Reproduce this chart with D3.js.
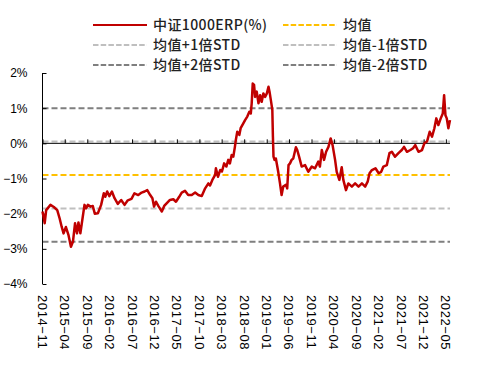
<!DOCTYPE html>
<html>
<head>
<meta charset="utf-8">
<script src="https://cdn.jsdelivr.net/npm/d3@7"></script>
<style>
  html, body { margin: 0; padding: 0; background: #fff; }
  svg { display: block; }
</style>
</head>
<body>
<svg id="chart" width="504" height="387"></svg>
<script>
// values
const dates = [
  "2014-11-01","2014-11-16","2014-11-26","2014-12-25","2015-01-17","2015-02-09","2015-02-25","2015-03-11",
  "2015-03-24","2015-04-09","2015-04-26","2015-05-13","2015-05-27","2015-06-10","2015-06-23","2015-07-03",
  "2015-07-16","2015-07-25","2015-08-13","2015-08-24","2015-09-05","2015-09-23","2015-10-08","2015-10-22",
  "2015-11-12","2015-12-04","2015-12-22","2016-01-01","2016-01-14","2016-01-29","2016-02-15","2016-03-04",
  "2016-03-26","2016-04-18","2016-05-11","2016-06-02","2016-06-27","2016-07-17","2016-08-12","2016-09-04",
  "2016-09-24","2016-10-12","2016-11-01","2016-11-16","2016-11-27","2016-12-10","2016-12-26","2017-01-19",
  "2017-02-04","2017-02-22","2017-03-15","2017-04-07","2017-04-25","2017-05-17","2017-06-03","2017-06-25",
  "2017-07-17","2017-08-10","2017-09-02","2017-09-24","2017-10-17","2017-11-09","2017-12-01","2017-12-12",
  "2017-12-28","2018-01-16","2018-01-21","2018-02-04","2018-02-19","2018-03-03","2018-03-18","2018-04-02",
  "2018-04-15","2018-04-26","2018-05-08","2018-05-19","2018-05-30","2018-06-05","2018-06-15","2018-06-29",
  "2018-07-08","2018-07-26","2018-08-07","2018-08-22","2018-09-05","2018-09-15","2018-09-21","2018-09-28",
  "2018-10-07","2018-10-14","2018-10-25","2018-11-06","2018-11-17","2018-11-28","2018-12-09","2018-12-21",
  "2019-01-02","2019-01-13","2019-01-20","2019-01-29","2019-02-08","2019-02-12","2019-02-16","2019-02-23",
  "2019-03-04","2019-03-20","2019-04-01","2019-04-12","2019-04-23","2019-05-11","2019-05-20","2019-05-29",
  "2019-06-08","2019-06-19","2019-06-30","2019-07-18","2019-07-27","2019-08-10","2019-08-26","2019-09-18",
  "2019-10-10","2019-11-03","2019-11-25","2019-12-17","2019-12-28","2020-01-10","2020-01-25","2020-02-08",
  "2020-02-24","2020-03-10","2020-03-23","2020-04-09","2020-04-20","2020-05-08","2020-05-24","2020-06-04",
  "2020-06-22","2020-07-08","2020-08-01","2020-08-23","2020-09-15","2020-10-08","2020-10-30","2020-11-16",
  "2020-11-29","2020-12-15","2021-01-08","2021-01-30","2021-02-16","2021-03-03","2021-03-26","2021-04-13",
  "2021-04-29","2021-05-21","2021-06-13","2021-07-06","2021-07-21","2021-08-10","2021-09-02","2021-09-20",
  "2021-10-05","2021-10-27","2021-11-20","2021-12-06","2021-12-24","2022-01-11","2022-01-27","2022-02-12",
  "2022-02-25","2022-03-11","2022-03-27","2022-04-10","2022-04-19","2022-04-28","2022-05-07","2022-05-18",
  "2022-05-29"
];
const erp = [
  -1.94,-2.27,-1.90,-1.75,-1.81,-1.90,-2.13,-2.37,
  -2.56,-2.38,-2.60,-2.94,-2.79,-2.27,-2.56,-2.25,
  -2.56,-2.30,-1.75,-1.85,-1.75,-1.80,-1.78,-2.00,
  -1.99,-1.75,-1.42,-1.52,-1.37,-1.50,-1.37,-1.56,
  -1.72,-1.61,-1.75,-1.62,-1.58,-1.42,-1.47,-1.40,
  -1.37,-1.33,-1.47,-1.56,-1.80,-1.66,-1.78,-1.94,
  -1.78,-1.70,-1.61,-1.59,-1.66,-1.52,-1.40,-1.35,
  -1.47,-1.47,-1.40,-1.47,-1.50,-1.28,-1.14,-1.20,
  -1.04,-0.90,-0.71,-0.95,-0.76,-0.80,-0.57,-0.66,
  -0.47,-0.57,-0.33,-0.38,-0.10,0.09,0.33,0.24,
  0.43,0.57,0.66,0.76,0.90,0.85,1.14,1.70,
  1.66,1.32,1.47,1.14,1.37,1.18,1.42,1.32,
  1.42,1.61,1.47,1.23,0.95,0.19,-0.38,-0.47,
  -0.43,-0.81,-1.14,-1.47,-1.23,-1.18,-1.28,-0.62,
  -0.57,-0.47,-0.43,-0.11,-0.19,-0.40,-0.66,-0.62,
  -0.81,-0.66,-0.71,-0.52,-0.66,-0.19,-0.47,-0.24,
  -0.10,0.14,-0.05,-0.47,-0.81,-1.04,-0.68,-1.04,
  -1.33,-1.14,-1.23,-1.14,-1.23,-1.14,-1.23,-1.09,
  -0.85,-0.76,-0.71,-0.85,-0.81,-0.66,-0.62,-0.28,
  -0.24,-0.38,-0.28,-0.19,-0.10,-0.24,-0.19,-0.14,
  -0.05,-0.24,-0.19,0.00,0.05,0.33,0.19,0.43,
  0.71,0.52,0.71,0.85,1.37,0.80,0.71,0.43,
  0.66
];

// reference levels
const levelNames = ["均值", "均值+1倍STD", "均值-1倍STD", "均值+2倍STD", "均值-2倍STD"];
const levelValues = [-0.90, 0.05, -1.85, 1.00, -2.80];
const levelColors = ["#FFC000", "#BFBFBF", "#BFBFBF", "#7F7F7F", "#7F7F7F"];

const seriesName = "中证1000ERP(%)";
const xTickLabels = ["2014-11","2015-04","2015-09","2016-02","2016-07","2016-12","2017-05","2017-10",
  "2018-03","2018-08","2019-01","2019-06","2019-11","2020-04","2020-09","2021-02","2021-07","2021-12","2022-05"];
const yTicks = [2, 1, 0, -1, -2, -3, -4];

const svg = d3.select("#chart");
const parse = d3.timeParse("%Y-%m-%d");
const parseMonth = d3.timeParse("%Y-%m");
const data = dates.map((d, i) => ({ date: parse(d), v: erp[i] }));

const plotLeft = 42.5, plotRight = 450, plotTop = 73, plotBottom = 284;

const x = d3.scaleTime()
  .domain([parse(dates[0]), parse(dates[dates.length - 1])])
  .range([plotLeft, plotRight]);
const y = d3.scaleLinear().domain([-4, 2]).range([plotBottom, plotTop]);

// reference lines
const dash = "6,3";
svg.append("g")
  .selectAll("line")
  .data(levelValues)
  .join("line")
  .attr("x1", plotLeft)
  .attr("x2", plotRight)
  .attr("y1", d => y(d))
  .attr("y2", d => y(d))
  .attr("stroke", (d, i) => levelColors[i])
  .attr("stroke-width", 2)
  .attr("stroke-dasharray", dash);

// y axis, ticks pointing inward
const yAxis = svg.append("g")
  .attr("transform", `translate(${plotLeft},0)`)
  .call(d3.axisLeft(y).tickValues(yTicks).tickSize(-4).tickPadding(15)
    .tickFormat(d => (d < 0 ? "\u2212" + Math.abs(d) : d) + "%"));
yAxis.select(".domain").attr("stroke", "#000").attr("d", `M0,${plotTop}V${plotBottom}`);
yAxis.selectAll(".tick line").attr("stroke", "#000");
yAxis.selectAll("text")
  .attr("font-family", "'Liberation Sans', Arial, sans-serif")
  .attr("font-size", 12)
  .attr("fill", "#000");

// x axis on the zero line, ticks pointing up
const xAxis = svg.append("g")
  .attr("transform", `translate(0,${y(0)})`)
  .call(d3.axisBottom(x).tickValues(xTickLabels.map(parseMonth)).tickSize(-4).tickFormat(""));
xAxis.select(".domain").attr("stroke", "#000").attr("d", `M${plotLeft},0H${plotRight}`);
xAxis.selectAll(".tick line").attr("stroke", "#000");

// rotated date labels below the plot
svg.append("g")
  .selectAll("text")
  .data(xTickLabels)
  .join("text")
  .attr("transform", d => `translate(${x(parseMonth(d))},295) rotate(90)`)
  .attr("dy", "0.35em")
  .attr("text-anchor", "start")
  .attr("font-family", "'Liberation Sans', Arial, sans-serif")
  .attr("font-size", 13)
  .attr("letter-spacing", 0.6)
  .attr("fill", "#000")
  .text(d => d.replace("-", "\u2212"));

// main series
const line = d3.line().x(d => x(d.date)).y(d => y(d.v));
svg.append("path")
  .datum(data)
  .attr("fill", "none")
  .attr("stroke", "#C00000")
  .attr("stroke-width", 2.5)
  .attr("stroke-linejoin", "round")
  .attr("d", line);

// legend
const legendItems = [
  { name: seriesName, color: "#C00000", dashed: false },
  { name: levelNames[0], color: levelColors[0], dashed: true },
  { name: levelNames[1], color: levelColors[1], dashed: true },
  { name: levelNames[2], color: levelColors[2], dashed: true },
  { name: levelNames[3], color: levelColors[3], dashed: true },
  { name: levelNames[4], color: levelColors[4], dashed: true }
];
const legend = svg.append("g")
  .selectAll("g")
  .data(legendItems)
  .join("g")
  .attr("transform", (d, i) => `translate(${i % 2 === 0 ? 93 : 283},${25 + Math.floor(i / 2) * 20})`);
legend.append("line")
  .attr("x1", 0)
  .attr("x2", 54)
  .attr("stroke", d => d.color)
  .attr("stroke-width", 2)
  .attr("stroke-dasharray", d => d.dashed ? "5.5,2.2" : null);
legend.append("text")
  .attr("x", 60)
  .attr("dy", "0.35em")
  .attr("font-family", "'Noto Sans CJK SC', sans-serif")
  .attr("font-size", 14)
  .attr("font-weight", 500)
  .attr("letter-spacing", 0.4)
  .attr("fill", "#222")
  .text(d => d.name);
</script>
</body>
</html>
